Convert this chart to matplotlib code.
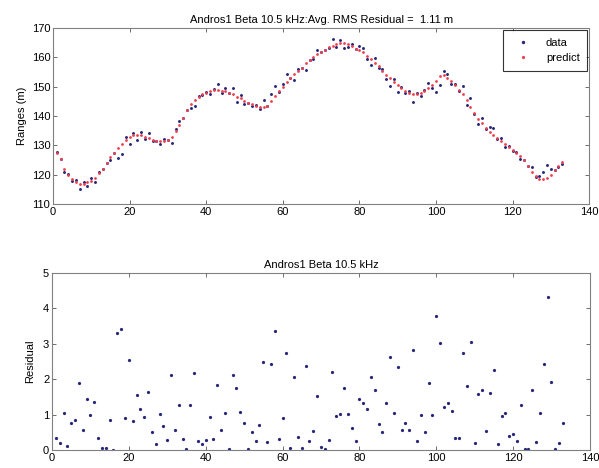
import numpy as np
import matplotlib
matplotlib.use('Agg')
from matplotlib import pyplot as plt

# values, sample index 1..133
predict = [127.5, 125.5, 122, 120, 118.5, 117.5, 117, 117, 117.5, 118,
           119, 120.5, 122, 124, 126, 127.5, 129, 130.5, 132, 133,
           133.5, 133.5, 133.5, 133, 132.5, 132, 131.5, 131.5, 131.5, 132,
           133, 135, 137, 139.5, 142, 144, 145.5, 146.5, 147.5, 148,
           148.5, 149, 149, 148.5, 148.5, 148, 147.5, 146.5, 146, 145,
           144.5, 144, 143.5, 143, 143, 143.5, 145, 147, 148.5, 150,
           151.5, 153, 154.5, 155.5, 156.5, 158, 159, 160, 161, 162,
           162.5, 163.5, 164, 164.5, 165, 165, 164.5, 164, 163, 162.5,
           162, 160.5, 159.5, 158, 157, 155.5, 154, 153, 151.5, 150.5,
           149.5, 148.5, 148, 147.5, 147.5, 148, 148.5, 149.5, 150.5, 152,
           153.5, 154, 153, 152, 150.5, 149, 147.5, 145.5, 143, 141,
           139, 137.5, 136, 134.5, 133.5, 132.5, 131.5, 130.5, 129.5, 128.5,
           127.5, 126.5, 125, 123, 121, 119.5, 118.5, 118.5, 119, 120,
           121.5, 123, 124.5]

data = [127.85, 125.31, 120.95, 120.12, 117.74, 118.34, 115.12, 117.57, 116.06, 118.99,
        117.64, 120.84, 121.93, 124.07, 125.16, 127.51, 125.70, 127.07, 132.89, 130.46,
        134.31, 131.96, 134.65, 132.08, 134.14, 131.50, 131.66, 130.49, 132.19, 131.71,
        130.89, 135.56, 138.28, 139.19, 142.02, 142.74, 143.33, 146.74, 147.34, 148.28,
        147.58, 149.31, 150.83, 147.94, 149.54, 147.97, 149.63, 144.75, 147.06, 144.25,
        144.53, 143.49, 143.76, 142.28, 145.48, 143.27, 147.44, 150.37, 148.19, 150.89,
        154.25, 152.93, 152.45, 155.88, 156.43, 155.63, 159.26, 159.47, 162.53, 161.92,
        162.53, 163.21, 166.19, 163.54, 166.03, 163.25, 163.49, 164.61, 162.76, 163.94,
        163.34, 159.35, 157.43, 159.70, 156.27, 156.01, 152.67, 150.38, 152.55, 148.15,
        150.06, 147.74, 148.56, 144.68, 147.74, 147.00, 149.01, 151.38, 149.52, 148.21,
        150.47, 155.22, 154.34, 150.91, 150.83, 148.67, 150.25, 143.70, 146.06, 140.80,
        137.43, 139.20, 135.46, 136.12, 135.77, 132.33, 132.47, 129.46, 129.90, 128.05,
        127.74, 125.24, 125.02, 122.98, 122.70, 119.28, 119.54, 120.92, 123.31, 121.93,
        121.47, 122.79, 123.74]

residual = [0.35, 0.19, 1.05, 0.12, 0.76, 0.84, 1.88, 0.57, 1.44, 0.99,
            1.36, 0.34, 0.07, 0.07, 0.84, 0.01, 3.30, 3.43, 0.89, 2.54,
            0.81, 1.54, 1.15, 0.92, 1.64, 0.50, 0.16, 1.01, 0.69, 0.29,
            2.11, 0.56, 1.28, 0.31, 0.02, 1.26, 2.17, 0.24, 0.16, 0.28,
            0.92, 0.31, 1.83, 0.56, 1.04, 0.03, 2.13, 1.75, 1.06, 0.75,
            0.03, 0.51, 0.26, 0.72, 2.48, 0.23, 2.44, 3.37, 0.31, 0.89,
            2.75, 0.07, 2.05, 0.38, 0.07, 2.37, 0.26, 0.53, 1.53, 0.08,
            0.03, 0.29, 2.19, 0.96, 1.03, 1.75, 1.01, 0.61, 0.24, 1.44,
            1.34, 1.15, 2.07, 1.70, 0.73, 0.51, 1.33, 2.62, 1.05, 2.35,
            0.56, 0.76, 0.56, 2.82, 0.24, 1.00, 0.51, 1.88, 0.98, 3.79,
            3.03, 1.22, 1.34, 1.09, 0.33, 0.33, 2.75, 1.80, 3.06, 0.20,
            1.57, 1.70, 0.54, 1.62, 2.27, 0.17, 0.97, 1.04, 0.40, 0.45,
            0.24, 1.26, 0.02, 0.02, 1.70, 0.22, 1.04, 2.42, 4.31, 1.93,
            0.03, 0.21, 0.76]

idx = np.arange(1, len(data) + 1)

plt.rcParams['font.family'] = ['Liberation Sans', 'DejaVu Sans']
plt.rcParams['font.size'] = 8

fig = plt.figure(figsize=(5.99, 4.68), dpi=100)


def matlab_axes(ax):
    for s in ax.spines.values():
        s.set_color('#808080')
        s.set_linewidth(0.8)
    ax.tick_params(direction='in', top=True, right=True, length=3,
                   width=0.6, color='#555555', labelsize=8, pad=2)


# TOP: ranges
ax1 = fig.add_axes([0.0885, 0.564, 0.895, 0.376])
ax1.plot(idx, data, '.', color='#26267a', markersize=2.2, label='data')
ax1.plot(idx, predict, '.', color='#f04050', markersize=2, label='predict')
ax1.set_xlim(0, 140)
ax1.set_ylim(110, 170)
ax1.set_xticks(range(0, 141, 20))
ax1.set_yticks(range(110, 171, 10))
ax1.set_ylabel('Ranges (m)', labelpad=3)
ax1.set_title('Andros1 Beta 10.5 kHz:Avg. RMS Residual =  1.11 m', fontsize=8, pad=4)
leg = ax1.legend(loc='upper right', borderaxespad=0.15, fancybox=False,
                 borderpad=0.7, labelspacing=0.5, handlelength=2.2,
                 handletextpad=1.0, markerscale=1.3, fontsize=8)
leg.get_frame().set_edgecolor('black')
leg.get_frame().set_linewidth(0.8)
matlab_axes(ax1)

# BOTTOM: residual
ax2 = fig.add_axes([0.0868, 0.0385, 0.898, 0.378])
ax2.plot(idx, residual, '.', color='#26267a', markersize=2.6)
ax2.set_xlim(0, 140)
ax2.set_ylim(0, 5)
ax2.set_xticks(range(0, 141, 20))
ax2.set_yticks(range(0, 6))
ax2.set_ylabel('Residual', labelpad=6)
ax2.set_title('Andros1 Beta 10.5 kHz', fontsize=8, pad=4)
matlab_axes(ax2)

fig.savefig('out.png', dpi=100)
